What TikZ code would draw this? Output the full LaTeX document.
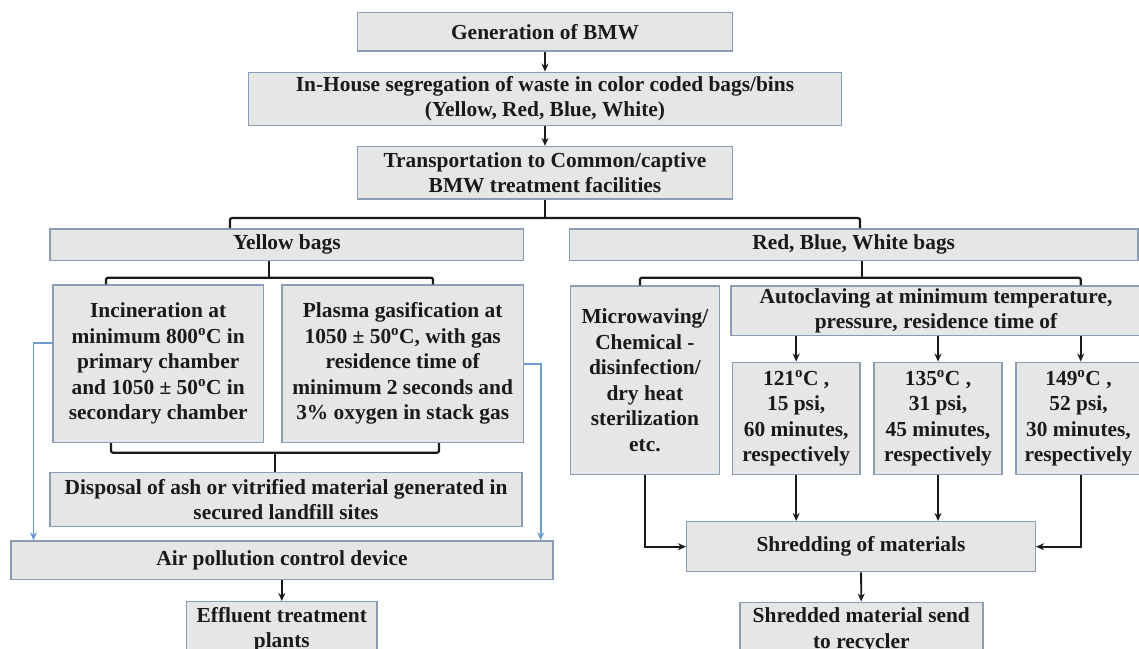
\documentclass[tikz,border=0pt]{standalone}
\usepackage{fontspec}
\setmainfont{Liberation Serif}
\usetikzlibrary{arrows.meta,calc}
\definecolor{boxfill}{HTML}{E6E6E6}
\definecolor{boxline}{HTML}{8C9DB3}
\definecolor{airblue}{HTML}{6D9BCF}
\definecolor{ink}{HTML}{1A1A1A}
\newcommand{\degC}{\textsuperscript{o}C}
\tikzset{
  stagebox/.style={draw=boxline, fill=boxfill, line width=1.5pt, inner sep=0pt, align=center, text=ink},
  flow/.style={->, ink, line width=1.8pt},
  brace/.style={ink, line width=2.2pt, rounded corners=2pt},
  airflow/.style={->, airblue, line width=1.7pt}
}

\begin{document}
\begin{tikzpicture}[x=1pt, y=-1pt, font=\fontsize{21.4}{25.5}\selectfont\bfseries, >={Stealth[length=8pt,width=7pt]}]
\useasboundingbox (0,0) rectangle (1139,648);
\fill[white] (0,0) rectangle (1139,648);
% top chain
\node[stagebox, minimum width=375, minimum height=38.7] (gen) at (545,31.7) {Generation of BMW};
\node[stagebox, minimum width=592.6, minimum height=53] (seg) at (545,98.8) {In-House segregation of waste in color coded bags/bins\\(Yellow, Red, Blue, White)};
\node[stagebox, minimum width=375, minimum height=52.3] (trans) at (545,172.8) {Transportation to Common/captive\\BMW treatment facilities};
\node[stagebox, minimum width=473.6, minimum height=31.7] (yel) at (286.8,244.8) {Yellow bags};
\node[stagebox, minimum width=568.5, minimum height=31.7] (red) at (853.7,244.8) {Red, Blue, White bags};
% yellow side
\node[stagebox, minimum width=210.9, minimum height=157.3] (inc) at (158.2,363.7) {Incineration at\\minimum 800\degC{} in\\primary chamber\\and 1050 ± 50\degC{} in\\secondary chamber};
\node[stagebox, minimum width=241.8, minimum height=157.3] (pla) at (402.7,363.7) {Plasma gasification at\\1050 ± 50\degC, with gas\\residence time of\\minimum 2 seconds and\\3\% oxygen in stack gas};
\node[stagebox, minimum width=472, minimum height=54] (disp) at (286,499.7) {Disposal of ash or vitrified material generated in\\secured landfill sites};
\node[stagebox, minimum width=542, minimum height=38.3] (apcd) at (282,560.2) {Air pollution control device};
\node[stagebox, minimum width=190.5, minimum height=56] (eff) at (281.8,629.7) {Effluent treatment\\plants};
% red, blue, white side
\node[stagebox, minimum width=149.2, minimum height=188.3] (mic) at (644.9,380.2) {Microwaving/\\Chemical -\\disinfection/\\dry heat\\sterilization\\etc.};
\node[stagebox, minimum width=410, minimum height=49.7] (auto) at (936,310.8) {Autoclaving at minimum temperature,\\pressure, residence time of};
\node[stagebox, minimum width=127.4, minimum height=112] (t121) at (796.2,418.3) {121\degC{} ,\\15 psi,\\60 minutes,\\respectively};
\node[stagebox, minimum width=128.1, minimum height=112] (t135) at (938,418.3) {135\degC{} ,\\31 psi,\\45 minutes,\\respectively};
\node[stagebox, minimum width=125, minimum height=112] (t149) at (1078.5,418.3) {149\degC{} ,\\52 psi,\\30 minutes,\\respectively};
\node[stagebox, minimum width=348.6, minimum height=50] (shred) at (861,546.7) {Shredding of materials};
\node[stagebox, minimum width=243, minimum height=56] (final) at (861.3,630.3) {Shredded material send\\to recycler};

\coordinate (bl) at (230,218); \coordinate (br) at (860,218);
\coordinate (yl) at (106,277.7); \coordinate (yr) at (433,277.7); \coordinate (ys) at (269,277.7);
\coordinate (rl) at (640,277.7); \coordinate (rr) at (1080.7,277.7); \coordinate (rs) at (861.7,277.7);
\coordinate (dl) at (111,452.7); \coordinate (dr) at (439,452.7); \coordinate (ds) at (275,452.7);
\coordinate (al) at (33.5,343.3); \coordinate (ar) at (540.7,364.3);
\coordinate (ml) at (645,546.7); \coordinate (tr) at (1080.7,546.7);

\draw[flow] (gen) -- (seg);
\draw[flow] (seg) -- (trans);
\draw[brace] (trans.south) -- (trans.south |- bl);
\draw[brace] (yel.north -| bl) -- (bl) -- (br) -- (red.north -| br);
\draw[brace] (yel.south -| ys) -- (ys);
\draw[brace] (inc.north -| yl) -- (yl) -- (yr) -- (pla.north -| yr);
\draw[brace] (red.south -| rs) -- (rs);
\draw[brace] (mic.north -| rl) -- (rl) -- (rr) -- (auto.north -| rr);
\draw[brace] (inc.south -| dl) -- (dl) -- (dr) -- (pla.south -| dr);
\draw[brace] (ds) -- (disp.north -| ds);
\draw[airflow] (inc.west |- al) -- (al) -- (apcd.north -| al);
\draw[airflow] (pla.east |- ar) -- (ar) -- (apcd.north -| ar);
\draw[flow] (apcd.south -| eff) -- (eff.north);
\foreach \t in {t121,t135}{
  \draw[flow] (auto.south -| \t) -- (\t.north);
  \draw[flow] (\t.south) -- (shred.north -| \t);
}
\draw[flow] (auto.south -| tr) -- (t149.north -| tr);
\draw[flow] (mic.south -| ml) -- (ml) -- (shred.west);
\draw[flow] (t149.south -| tr) -- (tr) -- (shred.east);
\draw[flow] (shred) -- (final);
\end{tikzpicture}
\end{document}
